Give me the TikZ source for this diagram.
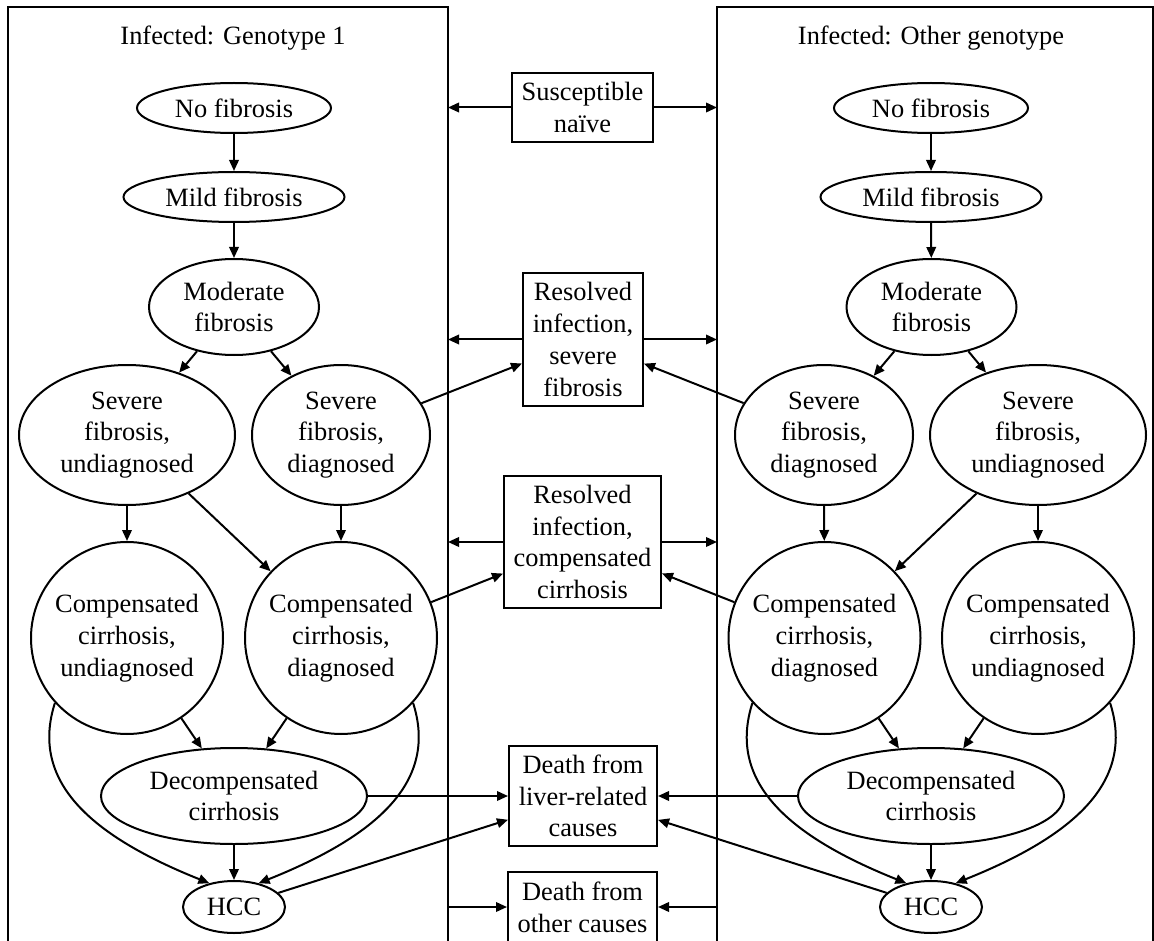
\documentclass[tikz,border=0pt]{standalone}
\usepackage{fontspec}
\setmainfont{Liberation Serif}
\usetikzlibrary{shapes.geometric,arrows.meta}

\tikzset{every picture/.style={line width=2pt}}
\tikzset{
  state/.style={draw, ellipse, inner sep=0pt, align=center},
  ring/.style={draw, circle, inner sep=0pt, align=center, minimum size=192pt},
  sink/.style={draw, rectangle, inner sep=0pt, align=center},
  flow/.style={-{Triangle[length=11pt,width=9.5pt]}}
}

\begin{document}
\begin{tikzpicture}[x=1pt,y=1pt,yscale=-1,xscale=1,font=\fontsize{26.4}{31.7}\selectfont]
		\useasboundingbox (0,0) rectangle (1154,941);
		
		%Shape: Panels (open at the bottom)
		\draw (8,960) -- (8,7) -- (448,7) -- (448,960) ;
		\draw (717,960) -- (717,7) -- (1153,7) -- (1153,960) ;
		\coordinate (g1r) at (448,7);
		\coordinate (g2l) at (717,7);
		
		\node (t1) at (233,38) {Infected: Genotype 1};
		\node (t2) at (931,38) {Infected: Other genotype};
		
		%Genotype 1
		\node[state, minimum width=194pt, minimum height=50pt] (nf1) at (234,108) {No fibrosis};
		\node[state, minimum width=221pt, minimum height=50pt] (mf1) at (234,197) {Mild fibrosis};
		\node[state, minimum width=170pt, minimum height=96pt] (mo1) at (234,307) {Moderate\\fibrosis};
		\node[state, minimum width=216pt, minimum height=140pt] (su1) at (127,435) {Severe\\fibrosis,\\undiagnosed};
		\node[state, minimum width=178pt, minimum height=140pt] (sd1) at (341,435) {Severe\\fibrosis,\\diagnosed};
		\node[ring] (cu1) at (127,638) {Compensated\\cirrhosis,\\undiagnosed};
		\node[ring] (cd1) at (341,638) {Compensated\\cirrhosis,\\diagnosed};
		\node[state, minimum width=266pt, minimum height=96pt] (dc1) at (234,796) {Decompensated\\cirrhosis};
		\node[state, minimum width=102pt, minimum height=52pt] (hcc1) at (234,907) {HCC};
		
		%Other genotype
		\node[state, minimum width=194pt, minimum height=50pt] (nf2) at (931,108) {No fibrosis};
		\node[state, minimum width=221pt, minimum height=50pt] (mf2) at (931,197) {Mild fibrosis};
		\node[state, minimum width=170pt, minimum height=96pt] (mo2) at (931.5,307) {Moderate\\fibrosis};
		\node[state, minimum width=178pt, minimum height=140pt] (sd2) at (824,435) {Severe\\fibrosis,\\diagnosed};
		\node[state, minimum width=216pt, minimum height=140pt] (su2) at (1038,435) {Severe\\fibrosis,\\undiagnosed};
		\node[ring] (cd2) at (824.5,638) {Compensated\\cirrhosis,\\diagnosed};
		\node[ring] (cu2) at (1038,638) {Compensated\\cirrhosis,\\undiagnosed};
		\node[state, minimum width=266pt, minimum height=96pt] (dc2) at (931,796) {Decompensated\\cirrhosis};
		\node[state, minimum width=102pt, minimum height=52pt] (hcc2) at (931,907) {HCC};
		
		%Middle column
		\node[sink, minimum width=141pt, minimum height=69pt] (sus) at (582.5,107.5) {Susceptible\\naïve};
		\node[sink, minimum width=120pt, minimum height=133pt] (rsf) at (583,339.5) {Resolved\\infection,\\severe\\fibrosis};
		\node[sink, minimum width=157pt, minimum height=132pt] (rcc) at (582.5,542) {Resolved\\infection,\\compensated\\cirrhosis};
		\node[sink, minimum width=148pt, minimum height=100pt] (dlr) at (583,796) {Death from\\liver-related\\causes};
		\node[sink, minimum width=149pt, minimum height=70pt] (doc) at (582.5,907) {Death from\\other causes};
		
		\draw[flow] (nf1) -- (mf1) ;
		\draw[flow] (mf1) -- (mo1) ;
		\draw[flow] (mo1) -- (su1) ;
		\draw[flow] (mo1) -- (sd1) ;
		\draw[flow] (su1) -- (cu1) ;
		\draw[flow] (su1) -- (cd1) ;
		\draw[flow] (sd1) -- (cd1) ;
		\draw[flow] (cu1) -- (dc1) ;
		\draw[flow] (cd1) -- (dc1) ;
		\draw[flow] (dc1) -- (hcc1) ;
		\draw[flow] (cu1.222) .. controls +(-25,78) and +(-120,-48) .. (hcc1.136) ;
		\draw[flow] (cd1.318) .. controls +(25,78) and +(120,-48) .. (hcc1.44) ;
		
		\draw[flow] (nf2) -- (mf2) ;
		\draw[flow] (mf2) -- (mo2) ;
		\draw[flow] (mo2) -- (sd2) ;
		\draw[flow] (mo2) -- (su2) ;
		\draw[flow] (sd2) -- (cd2) ;
		\draw[flow] (su2) -- (cd2) ;
		\draw[flow] (su2) -- (cu2) ;
		\draw[flow] (cd2) -- (dc2) ;
		\draw[flow] (cu2) -- (dc2) ;
		\draw[flow] (dc2) -- (hcc2) ;
		\draw[flow] (cd2.222) .. controls +(-25,78) and +(-120,-48) .. (hcc2.136) ;
		\draw[flow] (cu2.318) .. controls +(25,78) and +(120,-48) .. (hcc2.44) ;
		
		%into the middle column
		\draw[flow] (sd1) -- (rsf) ;
		\draw[flow] (sd2) -- (rsf) ;
		\draw[flow] (cd1) -- (rcc) ;
		\draw[flow] (cd2) -- (rcc) ;
		\draw[flow] (dc1) -- (dlr) ;
		\draw[flow] (dc2) -- (dlr) ;
		\draw[flow] (hcc1) -- (dlr) ;
		\draw[flow] (hcc2) -- (dlr) ;
		
		%to and from the panels
		\draw[flow] (sus) -- (sus -| g1r) ;
		\draw[flow] (sus) -- (sus -| g2l) ;
		\draw[flow] (rsf) -- (rsf -| g1r) ;
		\draw[flow] (rsf) -- (rsf -| g2l) ;
		\draw[flow] (rcc) -- (rcc -| g1r) ;
		\draw[flow] (rcc) -- (rcc -| g2l) ;
		\draw[flow] (doc -| g1r) -- (doc) ;
		\draw[flow] (doc -| g2l) -- (doc) ;
		
	\end{tikzpicture}
\end{document}
